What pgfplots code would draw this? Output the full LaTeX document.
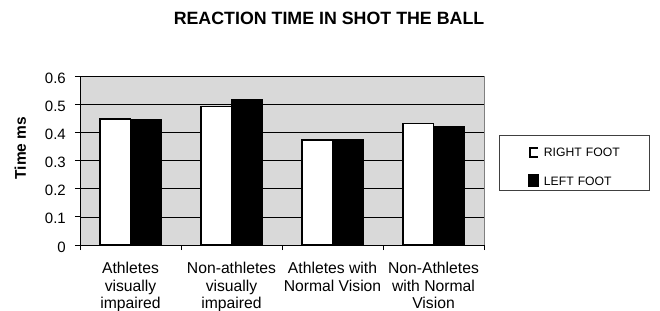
\documentclass[border=0pt]{standalone}
\usepackage{pgfplots}
\pgfplotsset{compat=1.18}
\usepackage{fontspec}
\setmainfont{Liberation Sans}
\definecolor{bggray}{HTML}{D9D9D9}
\begin{document}
\begin{tikzpicture}
\useasboundingbox (0,0) rectangle (660bp,311bp);
\node[font=\bfseries\fontsize{17.8bp}{20bp}\selectfont, inner sep=0pt] at (329bp,292.7bp) {REACTION TIME IN SHOT THE BALL};
\begin{axis}[
  at={(80bp,66bp)}, anchor=south west,
  scale only axis, width=404bp, height=169bp,
  xmin=-0.5, xmax=3.5, ymin=0, ymax=0.6,
  ybar=0pt, bar width=0.3,
  axis lines=left, axis line style={-, black, line width=0.7pt},
  axis background/.style={fill=bggray, draw=gray},
  tick align=outside, major tick length=5bp,
  tick style={black, line width=0.7pt},
  xtick={0,1,2,3},
  xtick style={draw=none},
  xticklabels={Athletes\\visually\\impaired, Non-athletes\\visually\\impaired, Athletes with\\Normal Vision, Non-Athletes\\with Normal\\Vision},
  xticklabel style={font=\fontsize{15.7bp}{17.7bp}\selectfont, align=center, anchor=north, inner sep=0pt, yshift=-12bp},
  extra x ticks={-0.5,0.5,1.5,2.5,3.5},
  extra x tick labels={},
  extra x tick style={xtick style={draw=black}, major tick length=5bp},
  ytick={0,0.1,0.2,0.3,0.4,0.5,0.6},
  /pgf/number format/assume math mode=true,
  /pgf/number format/fixed,
  /pgf/number format/precision=1,
  yticklabel style={font=\fontsize{15bp}{17bp}\selectfont, anchor=east, inner sep=0pt, xshift=-9bp, yshift=-2bp},
  ymajorgrids, major grid style={black, line width=0.6pt},
  ylabel={\bfseries Time ms},
  ylabel style={font=\fontsize{15.5bp}{17bp}\selectfont, at={(axis description cs:-0.148,0.574)}, anchor=center},
  legend style={at={(axis description cs:1.0371,0.6509)}, anchor=north west, draw=black!75, line width=0.8pt,
    inner xsep=0pt, inner ysep=4bp, row sep=16.5bp,
    font=\fontsize{12.2bp}{14bp}\selectfont,
    nodes={inner sep=0pt, text height=8.8bp, text depth=0bp, text width=106bp, align=left}},
  legend cell align=left,
]
\addplot[draw=black, fill=white, line width=1.5bp,
  legend image code/.code={\path (-29bp,12.2bp); \path (14bp,0bp);
    \draw[draw=black, fill=white, line width=2bp] (1bp,-4.5bp) rectangle (8bp,4.5bp);
    \draw[draw=white, line width=2.2bp] (8bp,-3.5bp) -- (8bp,3.5bp);}]
  coordinates {(0,0.447) (1,0.491) (2,0.373) (3,0.431)};
\addlegendentry{RIGHT FOOT}
\addplot[draw=black, fill=black, line width=1.5bp,
  legend image code/.code={\path (-29bp,0bp); \path (14bp,0bp); \fill[black] (0bp,-5.5bp) rectangle (9bp,5.5bp);}]
  coordinates {(0,0.445) (1,0.515) (2,0.372) (3,0.421)};
\addlegendentry{LEFT FOOT}
\end{axis}
\end{tikzpicture}
\end{document}
